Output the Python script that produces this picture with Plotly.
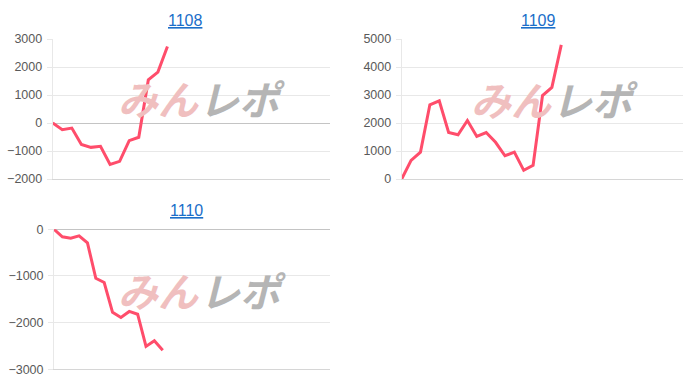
import plotly.graph_objects as go

W, H = 700, 390

titles = ["1108", "1109", "1110"]
n_labels = [30, 31, 34]
values_1108 = [0, -240, -180, -770, -870, -830, -1480, -1370, -630, -510, 1540, 1820, 2730]
values_1109 = [0, 665, 960, 2650, 2790, 1660, 1580, 2090, 1520, 1660, 1310, 830, 960, 310, 490, 2980, 3270, 4790]
values_1110 = [0, -160, -190, -140, -290, -1050, -1140, -1780, -1890, -1760, -1820, -2510, -2390, -2590]
series = [values_1108, values_1109, values_1110]
y_ranges = [[-2000, 3000], [0, 5000], [-3000, 0]]

# pixel boxes for plots (left, right, top, bottom)
boxes = [(52.7, 330, 39, 179), (401.7, 683.3, 39, 179), (54, 330, 229.3, 369.3)]
title_pos = [(185, 20), (538, 20), (186, 210)]
wm_pos = [((158, 98), (242, 98)), ((511, 99), (595, 99)), ((158, 290), (243, 290))]

LINE = "rgb(255,77,107)"
GRID = "#e8e8e8"
ZERO = "#c4c4c4"
FONT = "Liberation Sans, Arial, sans-serif"

fig = go.Figure()
annotations = []
for i, (vals, n, yr, box) in enumerate(zip(series, n_labels, y_ranges, boxes)):
    ax = "" if i == 0 else str(i + 1)
    fig.add_trace(go.Scatter(
        x=list(range(len(vals))), y=vals, mode="lines",
        line=dict(color=LINE, width=3), xaxis="x" + ax, yaxis="y" + ax,
        showlegend=False, hoverinfo="skip"))
    l, r, t, b = box
    fig.update_layout(**{
        "xaxis" + ax: dict(domain=[l / W, r / W], range=[0, n - 1], showgrid=False,
                           zeroline=False, showticklabels=False, showline=True,
                           linecolor="#d6d6d6", linewidth=1, mirror=False,
                           automargin=False,
                           anchor="y" + ax, fixedrange=True),
        "yaxis" + ax: dict(domain=[1 - b / H, 1 - t / H], range=yr, dtick=1000,
                           showgrid=True, gridcolor=GRID, gridwidth=1,
                           zeroline=True, zerolinecolor=ZERO, zerolinewidth=1,
                           showline=True, linecolor=GRID, linewidth=1,
                           ticks="outside", ticklen=5, tickcolor=GRID,
                           ticklabelstandoff=2, automargin=False,
                           tickfont=dict(family=FONT, size=12.5, color="#595959"),
                           anchor="x" + ax, fixedrange=True),
    })
    tx, ty = title_pos[i]
    annotations.append(dict(text="<u>" + titles[i] + "</u>", x=tx / W, y=1 - ty / H,
                            xref="paper", yref="paper", showarrow=False,
                            xanchor="center", yanchor="middle",
                            font=dict(family=FONT, size=16, color="#1a6ec9")))
    (px1, py1), (px2, py2) = wm_pos[i]
    annotations.append(dict(text="<b><i>みん</i></b>", x=px1 / W, y=1 - py1 / H,
                            xref="paper", yref="paper", showarrow=False,
                            xanchor="center", yanchor="middle",
                            font=dict(family="Noto Sans CJK JP", size=40, color="#f0bfbf")))
    annotations.append(dict(text="<b><i>レポ</i></b>", x=px2 / W, y=1 - py2 / H,
                            xref="paper", yref="paper", showarrow=False,
                            xanchor="center", yanchor="middle",
                            font=dict(family="Noto Sans CJK JP", size=40, color="#b5b5b5")))

fig.update_layout(width=W, height=H, margin=dict(l=0, r=0, t=0, b=0, autoexpand=False),
                  paper_bgcolor="white", plot_bgcolor="white",
                  annotations=annotations)
fig.write_html("out.html")
